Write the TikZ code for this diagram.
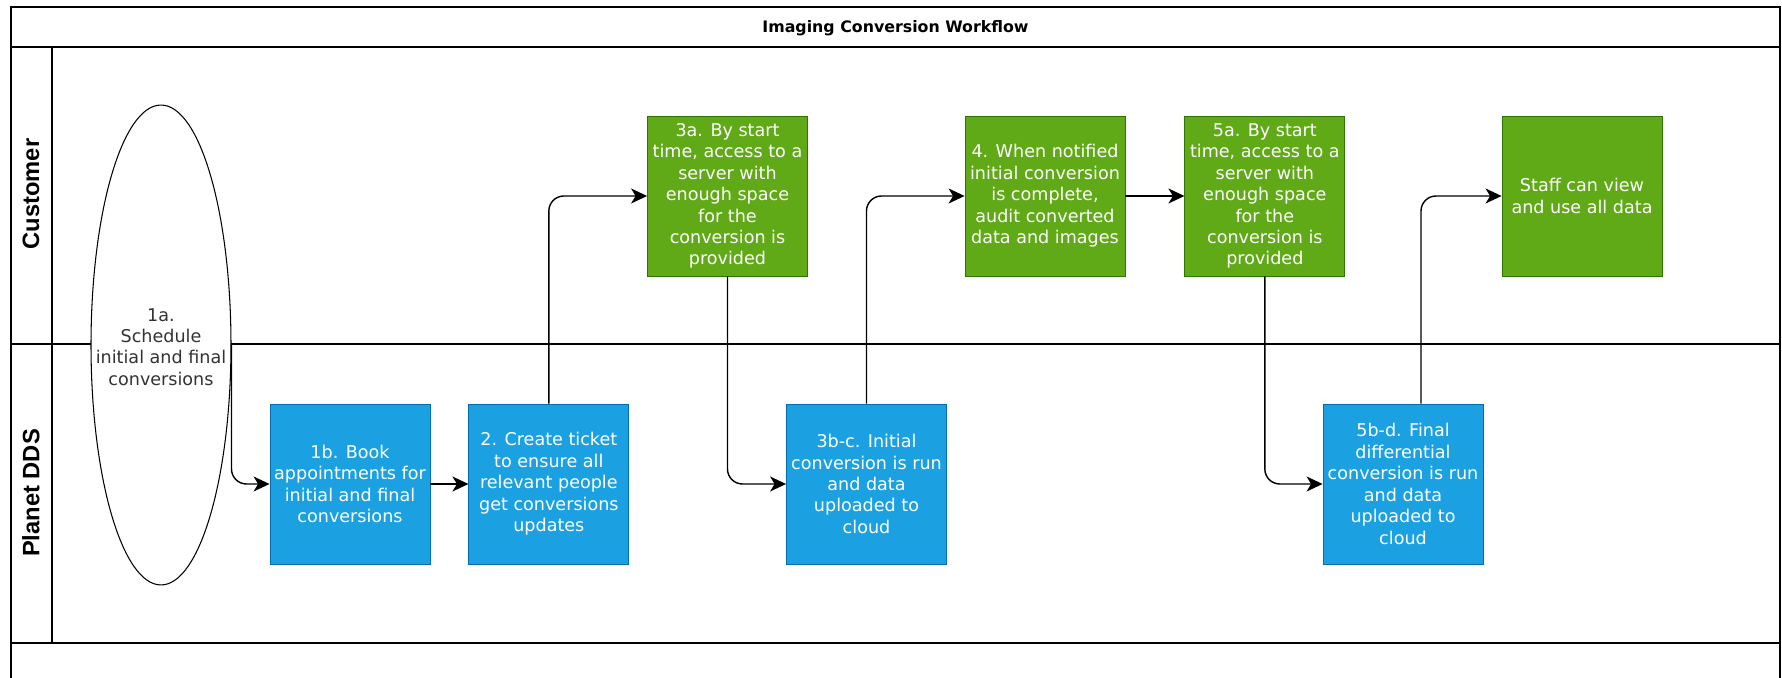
\documentclass[tikz,border=0pt]{standalone}
\usepackage{fontspec}
\setmainfont{DejaVu Sans}
\newfontfamily\lanefont{Liberation Sans}
\usetikzlibrary{positioning}
\usetikzlibrary{calc}
\usetikzlibrary{arrows.meta}
\usetikzlibrary{shapes.geometric}

\definecolor{custgreen}{HTML}{60A917}
\definecolor{custgreenline}{HTML}{2D7600}
\definecolor{ddsblue}{HTML}{1BA1E2}
\definecolor{ddsblueline}{HTML}{006EAF}
\definecolor{darktext}{HTML}{333333}

\begin{document}
\begin{tikzpicture}[x=0.02cm, y=-0.02cm, text centered,
        lane/.style={draw=black, line width=1pt},
        lanetitle/.style={font=\lanefont\bfseries\fontsize{13.5}{16}\selectfont, rotate=90},
        box/.style={rectangle, minimum width=3.2cm, minimum height=3.2cm, inner sep=0pt, align=center, text=white, line width=0.5pt, font=\fontsize{10}{12.2}\selectfont},
        custbox/.style={box, fill=custgreen, draw=custgreenline},
        ddsbox/.style={box, fill=ddsblue, draw=ddsblueline},
        flow/.style={line width=0.8pt, rounded corners=0.3cm, -{Stealth[length=3.2mm, width=3mm, inset=0.9mm]}}]
        \useasboundingbox (0,0) rectangle (1782,678);

        % pool and lanes
        \draw[lane] (11,7) rectangle (1780,47);
        \node[font=\bfseries\fontsize{9}{11}\selectfont] (title) at (895.5,28) {Imaging Conversion Workflow};
        \draw[lane] (11,47) -- (11,678);
        \draw[lane] (1780,47) -- (1780,678);
        \draw[lane] (52,47) -- (52,643);
        \draw[lane] (11,344) -- (1780,344);
        \draw[lane] (11,643) -- (1780,643);
        \node[lanetitle] (customer) at (31,194) {Customer};
        \node[lanetitle] (planet) at (31,493) {Planet DDS};

        % start
        \node[ellipse, draw, line width=0.6pt, fill=white, minimum width=2.8cm, minimum height=9.6cm, inner sep=0pt] (sched) at (161,345) {};
        \node[align=center, text=darktext, font=\fontsize{10}{12.2}\selectfont] (sched-text) at (161,347) {1a.\\Schedule\\initial and final\\conversions};

        % planet dds lane
        \node[ddsbox] (b1b) at (350,484) {1b. Book\\appointments for\\initial and final\\conversions};
        \node[ddsbox, right = 0.76cm of b1b] (b2) {2. Create ticket\\to ensure all\\relevant people\\get conversions\\updates};
        \node[ddsbox] (b3bc) at (866.5,484) {3b-c. Initial\\conversion is run\\and data\\uploaded to\\cloud};
        \node[ddsbox] (b5bd) at (1403,484) {5b-d. Final\\differential\\conversion is run\\and data\\uploaded to\\cloud};

        % customer lane
        \node[custbox] (b3a) at (727.5,196) {3a. By start\\time, access to a\\server with\\enough space\\for the\\conversion is\\provided};
        \node[custbox] (b4) at (1045,196) {4. When notified\\initial conversion\\is complete,\\audit converted\\data and images};
        \node[custbox, right = 1.18cm of b4] (b5a) {5a. By start\\time, access to a\\server with\\enough space\\for the\\conversion is\\provided};
        \node[custbox] (staff) at (1582,196) {Staff can view\\and use all data};

        \draw[flow] (sched.east) |- (b1b.west);
        \draw[flow] (b1b) -- (b2);
        \draw[flow] (b2.north) |- (b3a.west);
        \draw[flow] (b3a.south) |- (b3bc.west);
        \draw[flow] (b3bc.north) |- (b4.west);
        \draw[flow] (b4) -- (b5a);
        \draw[flow] (b5a.south) |- (b5bd.west);
        \draw[flow] ([xshift=0.36cm]b5bd.north) |- (staff.west);
    \end{tikzpicture}
\end{document}
